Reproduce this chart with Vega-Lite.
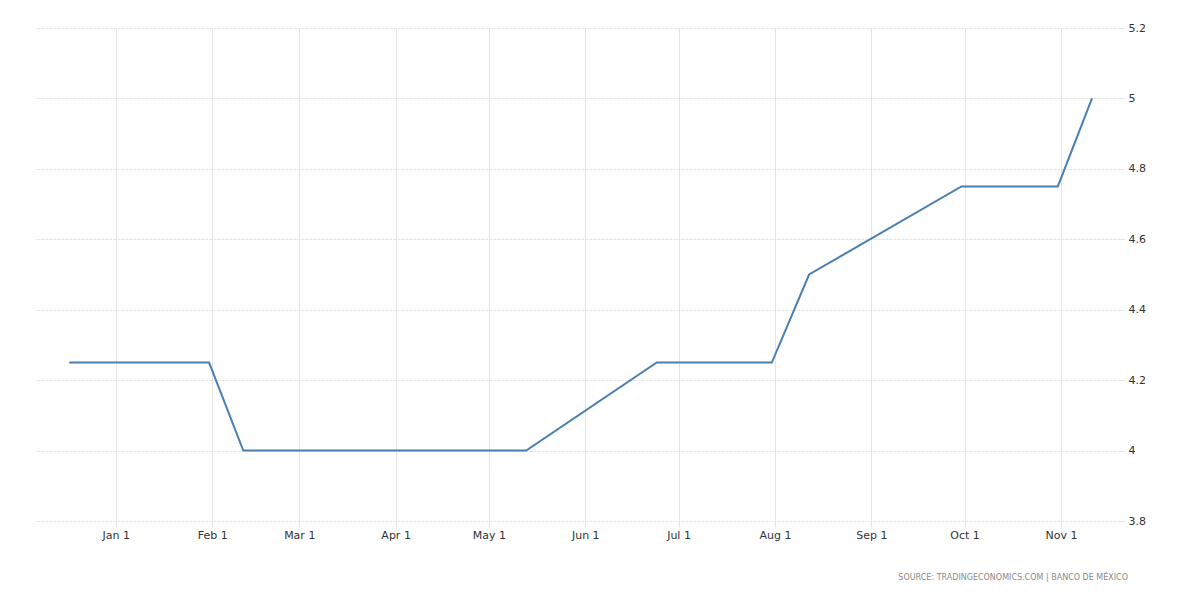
{
  "$schema": "https://vega.github.io/schema/vega-lite/v6.json",
  "width": 1085,
  "height": 493,
  "autosize": {"type": "none"},
  "padding": {"left": 35, "top": 28, "right": 80, "bottom": 79},
  "background": "#ffffff",
  "config": {
    "view": {"stroke": null},
    "font": "DejaVu Sans"
  },
  "title": {
    "text": "SOURCE: TRADINGECONOMICS.COM | BANCO DE MÉXICO",
    "orient": "bottom",
    "anchor": "end",
    "frame": "group",
    "fontSize": 8,
    "fontWeight": "normal",
    "color": "#8a8a8a",
    "offset": 34,
    "dx": 8,
    "font": "DejaVu Sans"
  },
  "data": {
    "values": [
      {"date": "2020-12-17T00:00:00", "rate": 4.25},
      {"date": "2021-01-31T00:00:00", "rate": 4.25},
      {"date": "2021-02-11T00:00:00", "rate": 4.0},
      {"date": "2021-02-28T00:00:00", "rate": 4.0},
      {"date": "2021-03-25T00:00:00", "rate": 4.0},
      {"date": "2021-04-30T00:00:00", "rate": 4.0},
      {"date": "2021-05-13T00:00:00", "rate": 4.0},
      {"date": "2021-06-24T00:00:00", "rate": 4.25},
      {"date": "2021-07-31T00:00:00", "rate": 4.25},
      {"date": "2021-08-12T00:00:00", "rate": 4.5},
      {"date": "2021-09-30T00:00:00", "rate": 4.75},
      {"date": "2021-10-31T00:00:00", "rate": 4.75},
      {"date": "2021-11-11T00:00:00", "rate": 5.0}
    ]
  },
  "mark": {"type": "line", "color": "#4a7fb0", "strokeWidth": 2},
  "encoding": {
    "x": {
      "field": "date",
      "type": "temporal",
      "scale": {
        "domain": [
          {"year": 2020, "month": 12, "date": 6},
          {"year": 2021, "month": 11, "date": 20}
        ]
      },
      "axis": {
        "title": null,
        "format": "%b %-d",
        "tickCount": {"interval": "month", "step": 1},
        "domain": false,
        "grid": true,
        "gridColor": "#e3e3e3",
        "gridWidth": 1,
        "ticks": true,
        "tickColor": "#e3e3e3",
        "tickSize": 6,
        "labelPadding": 2,
        "labelFontSize": 11,
        "labelColor": "#333333",
        "labelFont": "DejaVu Sans"
      }
    },
    "y": {
      "field": "rate",
      "type": "quantitative",
      "scale": {"domain": [3.8, 5.2], "nice": false, "zero": false},
      "axis": {
        "title": null,
        "orient": "right",
        "values": [3.8, 4, 4.2, 4.4, 4.6, 4.8, 5, 5.2],
        "format": "~g",
        "domain": false,
        "grid": true,
        "gridColor": "#e3e3e3",
        "gridDash": [3, 1],
        "ticks": true,
        "tickColor": "#e3e3e3",
        "tickSize": 4,
        "labelPadding": 4,
        "labelFontSize": 11,
        "labelColor": "#333333",
        "labelFont": "DejaVu Sans"
      }
    }
  }
}
